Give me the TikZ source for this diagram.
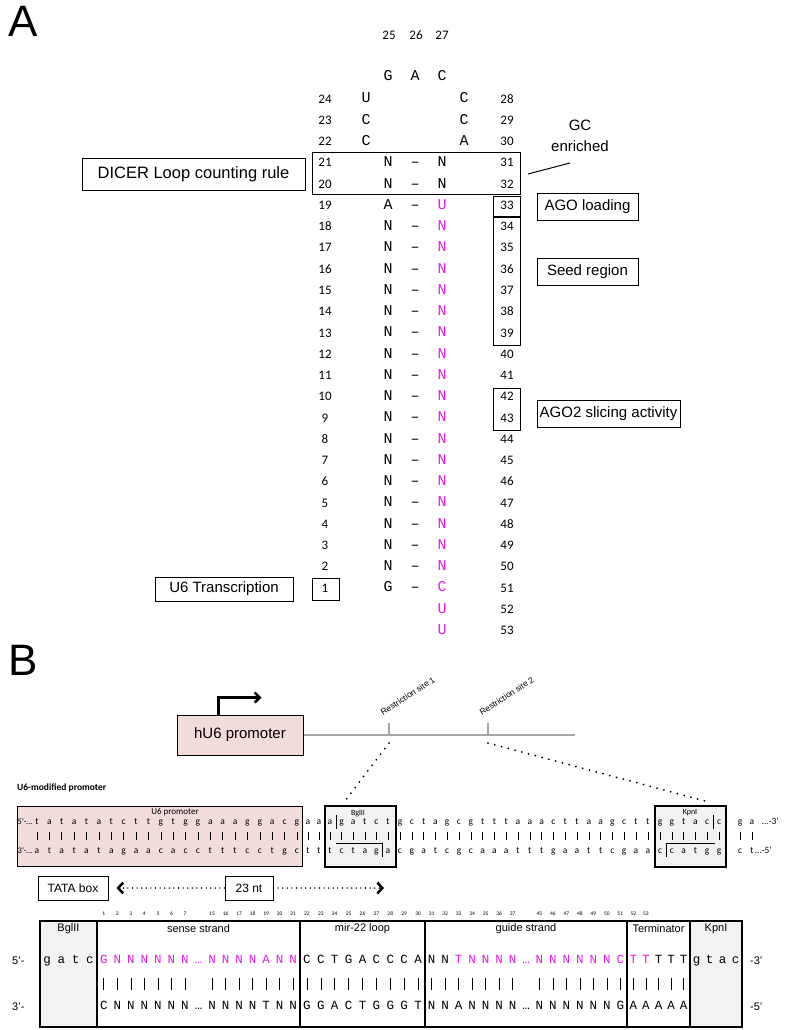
\documentclass[tikz,border=0pt]{standalone}
\usepackage{fontspec}
\setmainfont{Liberation Sans}
\newfontfamily\calib{Carlito}
\newfontfamily\cour{Liberation Mono}
\usetikzlibrary{arrows.meta}
\newcommand\setfs[1]{\fontsize{#1}{#1}\selectfont}
\definecolor{guide}{HTML}{E61CE6}
\definecolor{promfill}{HTML}{F2DCDB}
\definecolor{cellfill}{HTML}{F2F2F2}
\definecolor{vecgray}{HTML}{A6A6A6}

\begin{document}
\begin{tikzpicture}[x=1pt, y=-1pt,
  num/.style={font=\calib\setfs{13}, inner sep=0pt, text height=0.63em, text depth=0pt},
  basechar/.style={font=\cour\setfs{15}, inner sep=0pt, text height=0.6em, text depth=0pt},
  gstrand/.style={basechar, text=guide},
  tagbox/.style={draw, line width=1pt, font=\setfs{15}, inner sep=0pt},
  boxline/.style={draw, line width=1pt},
  seq/.style={font=\calib\setfs{9.5}, inner sep=0pt, text height=0.7em, text depth=0.2em},
  pairbar/.style={line width=0.6pt},
  dotline/.style={line width=2pt, line cap=round, dash pattern=on 0pt off 7pt},
  ntarrow/.style={line width=1.6pt, line cap=round, dash pattern=on 0pt off 4.6pt, -{Straight Barb[length=5pt,width=11pt,line width=2.5pt]}},
  tbl/.style={font=\cour\setfs{12.5}, inner sep=0pt, text height=0.7em, text depth=0.2em},
  tblhead/.style={font=\setfs{11}, inner sep=0pt},
  tblnum/.style={font=\calib\setfs{5.5}, inner sep=0pt},
  cellrule/.style={line width=1.5pt}
]
\useasboundingbox (0,0) rectangle (785,1030);

% ---------------- A: hairpin
\node[font=\setfs{44}, inner sep=0pt] (panA) at (23,21) {A};

\foreach \n/\x in {25/389,26/416,27/442}
  \node[num] (top\n) at (\x,36) {\n};
\foreach \c/\x [count=\i] in {G/388,A/415,C/442}
  \node[basechar] (apex\i) at (\x,78) {\c};

\foreach \r in {24,...,1}{
  \pgfmathsetmacro\yy{100+(24-\r)*21.26}
  \pgfmathtruncatemacro\mm{52-\r}
  \node[num] (ln\r) at (325,\yy) {\r};
  \node[num] (rn\mm) at (507,\yy) {\mm};
}
\node[num] (rn52) at (507,610.2) {52};
\node[num] (rn53) at (507,631.5) {53};

\foreach \r/\c in {24/U,23/C,22/C}{
  \pgfmathsetmacro\yy{100+(24-\r)*21.26}
  \node[basechar] (lo\r) at (366,\yy) {\c};
}
\foreach \r/\c in {24/C,23/C,22/A}{
  \pgfmathsetmacro\yy{100+(24-\r)*21.26}
  \node[basechar] (ro\r) at (464,\yy) {\c};
}
\foreach \r/\c in {21/N,20/N,19/A,18/N,17/N,16/N,15/N,14/N,13/N,12/N,11/N,10/N,9/N,8/N,7/N,6/N,5/N,4/N,3/N,2/N,1/G}{
  \pgfmathsetmacro\yy{100+(24-\r)*21.26}
  \node[basechar] (ls\r) at (388,\yy) {\c};
  \node[basechar] (bond\r) at (415,\yy) {–};
}
\foreach \r in {21,20}{
  \pgfmathsetmacro\yy{100+(24-\r)*21.26}
  \node[basechar] (rs\r) at (442,\yy) {N};
}
\foreach \r/\c in {19/U,18/N,17/N,16/N,15/N,14/N,13/N,12/N,11/N,10/N,9/N,8/N,7/N,6/N,5/N,4/N,3/N,2/N,1/C}{
  \pgfmathsetmacro\yy{100+(24-\r)*21.26}
  \node[gstrand] (rs\r) at (442,\yy) {\c};
}
\node[gstrand] (rs52) at (442,610.2) {U};
\node[gstrand] (rs53) at (442,631.5) {U};

\draw[boxline] (312,152) rectangle (520,194);
\draw[boxline] (493,196) rectangle (520,216);
\draw[boxline] (493,217) rectangle (520,345);
\draw[boxline] (493,388) rectangle (520,430);
\draw[boxline] (312,578) rectangle (339,600);

\node[tagbox, font=\setfs{16.5}, minimum width=223, minimum height=32] (dicer) at (193.5,174) {DICER Loop counting rule};
\node[tagbox, minimum width=101, minimum height=27] (agoload) at (587.5,206.5) {AGO loading};
\node[tagbox, minimum width=101, minimum height=27] (seed) at (587.5,271.5) {Seed region};
\node[tagbox, minimum width=143, minimum height=27] (slice) at (608.5,413.5) {AGO2 slicing activity};
\node[tagbox, minimum width=138, minimum height=24] (u6tr) at (224,589) {U6 Transcription};

\node[font=\fontsize{15}{21}\selectfont, align=center, inner sep=0pt] (gc) at (580,136) {GC\\enriched};
\coordinate (gcfoot) at (528,174);
\coordinate (gctip) at (570,163);
\draw[line width=1pt] (gcfoot) -- (gctip);

% ---------------- B: vector
\node[font=\setfs{44}, inner sep=0pt] (panB) at (23,660) {B};

\node[draw, line width=1pt, fill=promfill, minimum width=126, minimum height=40, font=\setfs{15}, inner sep=0pt] (hu6) at (240,735) {hU6 promoter};
\draw[line width=2.5pt, -{Straight Barb[length=5pt,width=10pt]}] ([xshift=42pt]hu6.north west) |- ++(43,-17);
\coordinate (vecend) at (575,735);
\draw[vecgray, line width=2.5pt] (hu6.east) -- (vecend);
\coordinate (site1) at (389,723);
\coordinate (site2) at (488,723);
\draw[vecgray, line width=2pt] (site1) -- ++(0,12);
\draw[vecgray, line width=2pt] (site2) -- ++(0,12);
\node[rotate=33, anchor=south west, font=\setfs{8.5}, inner sep=0pt] (site1lab) at (383,716) {Restriction site 1};
\node[rotate=33, anchor=south west, font=\setfs{8.5}, inner sep=0pt] (site2lab) at (482,716) {Restriction site 2};

\coordinate (bglcut) at (345,801);
\coordinate (kpncut) at (709,802);
\draw[dotline] ([yshift=-20pt]site1) -- (bglcut);
\draw[dotline] ([yshift=-20pt]site2) -- (kpncut);

\node[font=\calib\bfseries\setfs{9.5}, anchor=west, inner sep=0pt] (modlab) at (17,788) {U6-modified promoter};

\node[draw, line width=1pt, fill=promfill, minimum width=285, minimum height=60, inner sep=0pt] (u6box) at (159.5,836) {};
\node[font=\calib\setfs{9}, inner sep=0pt] (u6lab) at (175,812) {U6 promoter};
\node[draw, line width=1.2pt, fill=cellfill, minimum width=71, minimum height=61, inner sep=0pt] (bglbox) at (360.5,836.5) {};
\node[font=\calib\setfs{8}, inner sep=0pt] (bgllab) at (358,813) {BglII};
\node[draw, line width=1.2pt, fill=cellfill, minimum width=71, minimum height=61, inner sep=0pt] (kpnbox) at (690.5,836.5) {};
\node[font=\calib\setfs{8}, inner sep=0pt] (kpnlab) at (690,813) {KpnI};

% promoter
\foreach \a/\b [count=\i from 0] in {t/a,a/t,t/a,a/t,t/a,a/t,t/a,c/g,t/a,t/a,g/c,t/a,g/c,g/c,a/t,a/t,a/t,g/c,g/c,a/t,c/g,g/c}{
  \pgfmathsetmacro\xx{37+12.38*\i}
  \node[seq] (fwdP\i) at (\xx,822) {\a};
  \node[seq] (revP\i) at (\xx,851) {\b};
  \draw[pairbar] (\xx,832) -- (\xx,840);
}
% insert between the sites
\foreach \a/\b [count=\i from 0] in {g/c,c/g,t/a,a/t,g/c,c/g,g/c,t/a,t/a,t/a,a/t,a/t,a/t,c/g,t/a,t/a,a/t,a/t,g/c,c/g,t/a,t/a}{
  \pgfmathsetmacro\xx{400+11.8*\i}
  \node[seq] (fwdM\i) at (\xx,822) {\a};
  \node[seq] (revM\i) at (\xx,851) {\b};
  \draw[pairbar] (\xx,832) -- (\xx,840);
}
% short runs and the two sites
\foreach \a/\b/\xx [count=\i] in {a/t/308,a/t/319,a/t/330,g/c/341.6,a/t/353.2,t/a/364.8,c/g/376.4,t/a/388,g/c/660,g/c/671.8,t/a/683.6,a/t/695.4,c/g/707.2,c/g/719,g/c/740,a/t/752}{
  \node[seq] (fwdS\i) at (\xx,822) {\a};
  \node[seq] (revS\i) at (\xx,851) {\b};
  \draw[pairbar] (\xx,832) -- (\xx,840);
}
\draw[line width=0.8pt] (336,815) -- (336,829);
\draw[line width=0.8pt] (336,843) -| (382,857);
\draw[line width=0.8pt] (713,815) -- (713,829);
\draw[line width=0.8pt] (715,843) -| (666,857);

\node[seq, font=\calib\setfs{8.5}, anchor=west] (fwd5) at (17.5,822) {5'-…};
\node[seq, font=\calib\setfs{8.5}, anchor=west] (rev3) at (17.5,851) {3'-…};
\node[seq, anchor=west] (fwd3) at (762,822) {…-3'};
\node[seq, anchor=west] (rev5) at (755,851) {…-5'};

\node[draw, line width=1pt, minimum width=70, minimum height=24, font=\setfs{12}, inner sep=0pt] (tata) at (73,888) {TATA box};
\node[draw, line width=1pt, minimum width=48, minimum height=24, font=\setfs{12}, inner sep=0pt] (span) at (249,888) {23 nt};
\coordinate (spanend) at (384,888);
\draw[ntarrow, shorten >=8pt] (span.west) -- (tata.east);
\draw[ntarrow] (span.east) -- (spanend);

% ---------------- cassette table
\fill[cellfill] (40,921) rectangle (97,1027);
\fill[cellfill] (690,921) rectangle (742,1027);
\draw[cellrule] (40,921) rectangle (742,1027);
\foreach \x in {97,300,425,627,690}
  \draw[cellrule] (\x,921) -- (\x,1027);

\foreach \t/\x [count=\i] in {BglII/68.5,sense strand/198.5,mir-22 loop/362.5,guide strand/526,Terminator/658.5,KpnI/716}
  \node[tblhead] (head\i) at (\x,929) {\t};

\foreach \c [count=\i] in {g,a,t,c}
  \node[tbl] (bglf\i) at ({40+57*(\i-0.5)/4},961) {\c};
\foreach \c [count=\i] in {g,t,a,c}
  \node[tbl] (kpnf\i) at ({690+52*(\i-0.5)/4},961) {\c};

\foreach \u/\l [count=\i] in {G/C,N/N,N/N,N/N,N/N,N/N,N/N,…/…,N/N,N/N,N/N,N/N,A/T,N/N,N/N}{
  \pgfmathsetmacro\xx{97+203*(\i-0.5)/15}
  \node[tbl, text=guide] (sf\i) at (\xx,961) {\u};
  \node[tbl] (sr\i) at (\xx,1007) {\l};
  \ifnum\i=8\else\draw[pairbar] (\xx,978) -- (\xx,990);\fi
}
\foreach \u/\l [count=\i] in {C/G,C/G,T/A,G/C,A/T,C/G,C/G,C/G,A/T}{
  \pgfmathsetmacro\xx{300+125*(\i-0.5)/9}
  \node[tbl] (lf\i) at (\xx,961) {\u};
  \node[tbl] (lr\i) at (\xx,1007) {\l};
  \draw[pairbar] (\xx,978) -- (\xx,990);
}
\foreach \u/\l/\k [count=\i] in {N/N/black,N/N/black,T/A/guide,N/N/guide,N/N/guide,N/N/guide,N/N/guide,…/…/guide,N/N/guide,N/N/guide,N/N/guide,N/N/guide,N/N/guide,N/N/guide,C/G/guide}{
  \pgfmathsetmacro\xx{425+202*(\i-0.5)/15}
  \node[tbl, text=\k] (gf\i) at (\xx,961) {\u};
  \node[tbl] (gr\i) at (\xx,1007) {\l};
  \ifnum\i=8\else\draw[pairbar] (\xx,978) -- (\xx,990);\fi
}
\foreach \k [count=\i] in {guide,guide,black,black,black}{
  \pgfmathsetmacro\xx{627+63*(\i-0.5)/5}
  \node[tbl, text=\k] (tf\i) at (\xx,961) {T};
  \node[tbl] (tr\i) at (\xx,1007) {A};
  \draw[pairbar] (\xx,978) -- (\xx,990);
}

\foreach \n [count=\i] in {1,...,7}
  \node[tblnum] (idx\n) at ({97+203*(\i-0.5)/15},914) {\n};
\foreach \n [count=\i from 9] in {15,...,21}
  \node[tblnum] (idx\n) at ({97+203*(\i-0.5)/15},914) {\n};
\foreach \n [count=\i] in {22,...,30}
  \node[tblnum] (idx\n) at ({300+125*(\i-0.5)/9},914) {\n};
\foreach \n [count=\i] in {31,...,37}
  \node[tblnum] (idx\n) at ({425+202*(\i-0.5)/15},914) {\n};
\foreach \n [count=\i from 9] in {45,...,51}
  \node[tblnum] (idx\n) at ({425+202*(\i-0.5)/15},914) {\n};
\foreach \n [count=\i] in {52,53}
  \node[tblnum] (idx\n) at ({627+63*(\i-0.5)/5},914) {\n};

\node[tblhead, anchor=west] (end5) at (12,961) {5'-};
\node[tblhead, anchor=west] (end3) at (12,1007) {3'-};
\node[tblhead, anchor=west] (end3r) at (750,961) {-3'};
\node[tblhead, anchor=west] (end5r) at (750,1007) {-5'};
\end{tikzpicture}
\end{document}
